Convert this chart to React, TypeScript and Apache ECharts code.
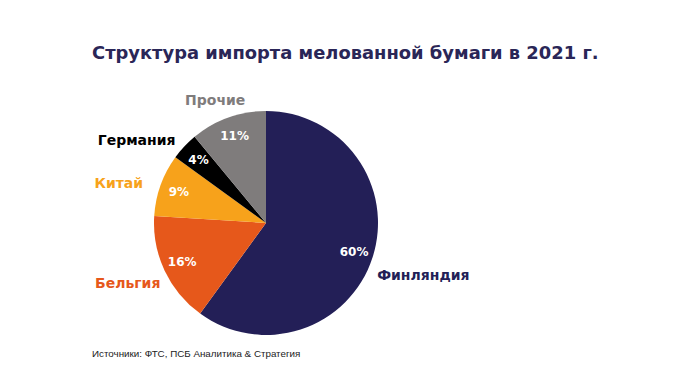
import React, { useEffect, useRef } from "react";
import * as echarts from "echarts";

const titleText = "Структура импорта мелованной бумаги в 2021 г.";
const sourceText = "Источники: ФТС, ПСБ Аналитика & Стратегия";
const categories = ["Финляндия", "Бельгия", "Китай", "Германия", "Прочие"];
const shares = [60, 16, 9, 4, 11];
const sliceColors = ["#231F57", "#E6581B", "#F7A21B", "#000000", "#7F7C7C"];
const nameColors = ["#231F57", "#E6581B", "#F7A21B", "#000000", "#7F7C7C"];
const nameOffsets: [number, number][] = [[-8, 15], [8, 9], [-5, 1], [2, -1], [25, -10]];

const FONT = "'DejaVu Sans', Verdana, sans-serif";

export default function App() {
  const ref = useRef<HTMLDivElement>(null);
  useEffect(() => {
    if (!ref.current) return;
    const chart = echarts.init(ref.current, null, { renderer: "svg" });
    const center = [266, 223];
    const R = 112;
    chart.setOption({
      animation: false,
      backgroundColor: "#ffffff",
      title: [
        {
          text: titleText,
          left: 87,
          top: 38,
          textStyle: { fontFamily: FONT, fontWeight: "bold", fontSize: 17.9, color: "#2A2657" },
        },
        {
          text: sourceText,
          left: 87,
          top: 343,
          textStyle: { fontFamily: "'Liberation Sans', Arial, sans-serif", fontWeight: "normal", fontSize: 9.8, color: "#222222" },
        },
      ],
      series: [
        {
          type: "pie",
          center,
          radius: [0, R],
          startAngle: 90,
          clockwise: true,
          avoidLabelOverlap: false,
          silent: true,
          data: categories.map((c, i) => ({
            name: c,
            value: shares[i],
            itemStyle: { color: sliceColors[i] },
            label: { color: nameColors[i], offset: nameOffsets[i] },
          })),
          label: {
            show: true,
            position: "outside",
            formatter: "{b}",
            fontFamily: FONT,
            fontWeight: "bold",
            fontSize: 14,
          },
          labelLine: { show: false, length: 8, length2: 0 },
        },
        {
          type: "pie",
          center,
          radius: [R * 0.6, R],
          startAngle: 90,
          clockwise: true,
          avoidLabelOverlap: false,
          silent: true,
          data: categories.map((c, i) => ({
            name: c,
            value: shares[i],
            itemStyle: { color: "rgba(0,0,0,0)" },
          })),
          label: {
            show: true,
            position: "inside",
            formatter: (p: any) => `${p.value}%`,
            fontFamily: FONT,
            fontWeight: "bold",
            fontSize: 12,
            color: "#ffffff",
          },
          labelLine: { show: false },
        },
      ],
    });
    return () => chart.dispose();
  }, []);
  return (
    <div
      ref={ref}
      style={{ position: "fixed", left: 0, top: 0, width: 698, height: 385 }}
    />
  );
}
